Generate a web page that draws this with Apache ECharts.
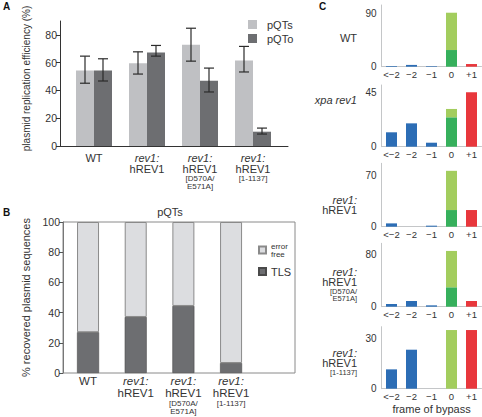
<!DOCTYPE html>
<html><head><meta charset="utf-8">
<script src="https://cdn.jsdelivr.net/npm/echarts@6/dist/echarts.min.js"></script>
<style>html,body{margin:0;padding:0;background:#fff}#c{width:482px;height:417px}</style>
</head><body><div id="c"></div>
<script>
// ---------- Panel A data ----------
const aCategories = ['WT', 'rev1:hREV1', 'rev1:hREV1[D570A/E571A]', 'rev1:hREV1[1-1137]'];
const aPQTs     = [54.3, 59.5, 72.9, 61.6];
const aPQTsLow  = [45.2, 51.8, 61.1, 53.3];
const aPQTsHigh = [64.7, 67.8, 84.8, 71.7];
const aPQTo     = [54.3, 67.4, 47.0, 10.3];
const aPQToLow  = [46.8, 64.7, 38.9, 8.6];
const aPQToHigh = [62.8, 72.4, 56.1, 12.9];
const aYTicks = [0, 20, 40, 60, 80];

// ---------- Panel B data ----------
const bCategories = aCategories;
const bTLS       = [27.0, 37.1, 44.4, 6.6];
const bErrorFree = [73.0, 62.9, 55.6, 93.4];
const bYTicks = [0, 20, 40, 60, 80, 100];

// ---------- Panel C data ----------
const cRows = ['WT', 'xpa rev1', 'rev1:hREV1', 'rev1:hREV1[D570A/E571A]', 'rev1:hREV1[1-1137]'];
const cFrames = ['<\u22122', '\u22122', '\u22121', '0', '+1'];
const cBlue      = [[1.2, 3.0, 1.0], [11.9, 19.3, 3.3], [4.5, 0, 1.4], [4.2, 8.8, 2.1], [11.6, 23.4, 0]];
const cGreenDark = [28.1, 24.3, 22.6, 30.0, 0];
const cGreenLight= [62.9, 6.9, 53.2, 56.2, 35.2];
const cRed       = [4.5, 45.0, 22.6, 8.8, 35.2];
const cYTick = [90, 45, 70, 80, 30];
const cYMax  = [104, 51, 86, 98, 37.2];

const FONT = '"Liberation Sans", Arial, Helvetica, sans-serif';
const TXT = '#333333';
const LIGHT = '#bfc0c3', DARK = '#6d6e71';

function catLabel(name) {
  if (name === 'WT') return '{n|WT}';
  if (name === 'xpa rev1') return '{i|xpa rev1}';
  const m = name.match(/^rev1:hREV1(?:\[(.*)\])?$/);
  let s = '{i|rev1:}\n{n|hREV1}';
  if (m && m[1]) {
    if (m[1].indexOf('/') >= 0) {
      const p = m[1].split('/');
      s += '\n{s|[' + p[0] + '/}\n{s|' + p[1] + ']}';
    } else s += '\n{s|[' + m[1] + ']}';
  }
  return s;
}
const richCat = {
  n: {fontSize: 11, lineHeight: 11, color: TXT, fontFamily: FONT},
  i: {fontSize: 11, lineHeight: 11, color: TXT, fontFamily: FONT, fontStyle: 'italic'},
  s: {fontSize: 8, lineHeight: 8, color: TXT, fontFamily: FONT}
};

const chart = echarts.init(document.getElementById('c'), null, {renderer: 'svg', width: 482, height: 417});

const cTops = [5, 85, 163.3, 243.3, 326.7];
const cHeights = [61.7, 61.7, 63.4, 63.4, 62];

const grids = [
  {left: 60, top: 21, width: 228, height: 125},
  {left: 67.5, top: 21, width: 212, height: 125},
  {left: 63, top: 222, width: 232, height: 151, show: true, borderColor: '#8a8a8a', borderWidth: 1, backgroundColor: 'transparent'},
  {left: 64.2, top: 222, width: 190.7, height: 151}
];
cTops.forEach((t, i) => grids.push({left: 381.5, top: t, width: 100, height: cHeights[i]}));

const hidden = {axisLine: {show: false}, axisTick: {show: false}, axisLabel: {show: false}, splitLine: {show: false}};

const xAxes = [
  {gridIndex: 0, type: 'value', min: 0, max: 1, axisLine: {show: true, onZero: false, lineStyle: {color: '#333', width: 1}}, axisTick: {show: false}, axisLabel: {show: false}, splitLine: {show: false}},
  {gridIndex: 1, type: 'category', data: aCategories, axisLine: {show: false}, axisTick: {show: false},
   axisLabel: {formatter: catLabel, rich: richCat, margin: 6, interval: 0}},
  Object.assign({gridIndex: 2, type: 'value', min: 0, max: 1}, hidden),
  {gridIndex: 3, type: 'category', data: bCategories, axisLine: {show: false}, axisTick: {show: false},
   axisLabel: {formatter: catLabel, rich: {
     n: {fontSize: 11.5, lineHeight: 12, color: TXT, fontFamily: FONT},
     i: {fontSize: 11.5, lineHeight: 12, color: TXT, fontFamily: FONT, fontStyle: 'italic'},
     s: {fontSize: 8, lineHeight: 8.5, color: TXT, fontFamily: FONT}}, margin: 2, interval: 0}}
];
cTops.forEach((t, i) => xAxes.push({
  gridIndex: 4 + i, type: 'category', data: cFrames,
  axisLine: {show: true, lineStyle: {color: '#c4c6c8', width: 1}}, axisTick: {show: false},
  axisLabel: {fontSize: 9.5, color: TXT, fontFamily: FONT, margin: 3, interval: 0},
  name: i === 4 ? 'frame of bypass' : '', nameLocation: 'middle', nameGap: 15,
  nameTextStyle: {fontSize: 11, color: TXT, fontFamily: FONT}
}));

const yAxes = [
  {gridIndex: 0, type: 'value', min: 0, max: 90,
   axisLine: {show: true, lineStyle: {color: '#333', width: 1}},
   axisTick: {show: true, length: 4, customValues: aYTicks, lineStyle: {color: '#333'}},
   axisLabel: {customValues: aYTicks, fontSize: 10.5, color: TXT, fontFamily: FONT, margin: 3},
   splitLine: {show: false},
   name: 'plasmid replication efficiency (%)', nameLocation: 'middle', nameGap: 29,
   nameTextStyle: {fontSize: 10, color: TXT, fontFamily: FONT, padding: [0, 0, 0, 10]}},
  Object.assign({gridIndex: 1, type: 'value', min: 0, max: 90}, hidden),
  {gridIndex: 2, type: 'value', min: 0, max: 100,
   axisLine: {show: true, lineStyle: {color: '#777', width: 1}},
   axisTick: {show: true, length: 4, customValues: bYTicks, lineStyle: {color: '#555'}},
   axisLabel: {customValues: bYTicks, fontSize: 10.5, color: TXT, fontFamily: FONT, margin: 3},
   splitLine: {show: false},
   name: '% recovered plasmid sequences', nameLocation: 'middle', nameGap: 32,
   nameTextStyle: {fontSize: 11, color: TXT, fontFamily: FONT}},
  Object.assign({gridIndex: 3, type: 'value', min: 0, max: 100}, hidden)
];
cTops.forEach((t, i) => yAxes.push({
  gridIndex: 4 + i, type: 'value', min: 0, max: cYMax[i],
  axisLine: {show: true, lineStyle: {color: '#c4c6c8', width: 1}}, axisTick: {show: false},
  axisLabel: {customValues: [0, cYTick[i]], fontSize: 10, color: TXT, fontFamily: FONT, margin: 5},
  splitLine: {show: false}
}));

function errSeries(low, high, off) {
  return {
    type: 'custom', xAxisIndex: 1, yAxisIndex: 1, z: 5, silent: true,
    data: low.map((v, i) => [i, v, high[i]]),
    encode: {x: 0, y: [1, 2]},
    renderItem: function (params, api) {
      const lo = api.coord([api.value(0), api.value(1)]);
      const hi = api.coord([api.value(0), api.value(2)]);
      const x = lo[0] + off;
      const st = {stroke: '#2b2b2b', lineWidth: 1.2};
      return {type: 'group', children: [
        {type: 'line', shape: {x1: x, y1: lo[1], x2: x, y2: hi[1]}, style: st},
        {type: 'line', shape: {x1: x - 5, y1: lo[1], x2: x + 5, y2: lo[1]}, style: st},
        {type: 'line', shape: {x1: x - 5, y1: hi[1], x2: x + 5, y2: hi[1]}, style: st}
      ]};
    }
  };
}

const series = [
  {name: 'pQTs', type: 'bar', xAxisIndex: 1, yAxisIndex: 1, data: aPQTs, barWidth: 18, barGap: '0%', itemStyle: {color: LIGHT}},
  {name: 'pQTo', type: 'bar', xAxisIndex: 1, yAxisIndex: 1, data: aPQTo, barWidth: 18, barGap: '0%', itemStyle: {color: DARK}},
  errSeries(aPQTsLow, aPQTsHigh, -9),
  errSeries(aPQToLow, aPQToHigh, 9),
  {name: 'TLS', type: 'bar', stack: 'b', xAxisIndex: 3, yAxisIndex: 3, data: bTLS, barWidth: 22,
   itemStyle: {color: DARK, borderColor: '#4a4a4a', borderWidth: 0.6}},
  {name: 'error free', type: 'bar', stack: 'b', xAxisIndex: 3, yAxisIndex: 3, data: bErrorFree, barWidth: 22,
   itemStyle: {color: '#dcdde0', borderColor: '#8a8a8a', borderWidth: 1}}
];

const BLUE = '#2c6db5', GDARK = '#36b05c', GLIGHT = '#a3cd5e', RED = '#e8373c';
cTops.forEach((t, i) => {
  const common = {type: 'bar', stack: 'c' + i, xAxisIndex: 4 + i, yAxisIndex: 4 + i, barWidth: 11, silent: true};
  series.push(Object.assign({name: 'blue' + i, data: [cBlue[i][0], cBlue[i][1], cBlue[i][2], '-', '-'], itemStyle: {color: BLUE}}, common));
  series.push(Object.assign({name: 'gdark' + i, data: ['-', '-', '-', cGreenDark[i], '-'], itemStyle: {color: GDARK}}, common));
  series.push(Object.assign({name: 'glight' + i, data: ['-', '-', '-', cGreenLight[i], '-'], itemStyle: {color: GLIGHT}}, common));
  series.push(Object.assign({name: 'red' + i, data: ['-', '-', '-', '-', cRed[i]], itemStyle: {color: RED}}, common));
});

function gtext(x, y, text, opts) {
  opts = opts || {};
  return {type: 'text', x: x, y: y, silent: true, style: {
    text: text, fill: opts.fill || TXT,
    font: (opts.italic ? 'italic ' : '') + (opts.bold ? 'bold ' : 'normal ') + (opts.size || 11) + 'px ' + FONT,
    align: opts.align || 'right', verticalAlign: opts.valign || 'middle',
    textAlign: opts.align || 'right', textVerticalAlign: opts.valign || 'middle',
    rich: opts.rich
  }};
}

const richRow = {
  n: {fontSize: 11, lineHeight: 10.5, fontFamily: FONT, fill: TXT, color: TXT, align: 'right'},
  i: {fontSize: 11, lineHeight: 10.5, fontFamily: FONT, fill: TXT, color: TXT, fontStyle: 'italic', align: 'right'},
  s: {fontSize: 7.5, lineHeight: 7.5, fontFamily: FONT, fill: TXT, color: TXT, align: 'right'}
};
// top y of each C row label block
const cRowLabelTop = [32.75, 94.75, 194.25, 266.25, 347.45];

const RX = 357;
const graphics = [
  gtext(3, 6, 'A', {bold: true, size: 10, align: 'left', fill: '#111'}),
  gtext(3, 212, 'B', {bold: true, size: 10, align: 'left', fill: '#111'}),
  gtext(319, 6, 'C', {bold: true, size: 10, align: 'left', fill: '#111'}),
  gtext(170, 212, 'pQTs', {align: 'center', size: 11})
];
cRows.forEach((r, i) => graphics.push(gtext(RX, cRowLabelTop[i], catLabel(r), {valign: 'top', rich: richRow})));

chart.setOption({
  animation: false,
  backgroundColor: '#fff',
  textStyle: {fontFamily: FONT},
  grid: grids,
  xAxis: xAxes,
  yAxis: yAxes,
  legend: [
    {data: ['pQTs', 'pQTo'], left: 243, top: 14, orient: 'vertical', itemWidth: 9, itemHeight: 9, itemGap: 3,
     icon: 'rect', selectedMode: false, textStyle: {fontSize: 11, color: TXT, fontFamily: FONT, padding: [0, 0, 0, 5]}},
    {data: ['error free', 'TLS'], left: 253, top: 237, orient: 'vertical', itemWidth: 7, itemHeight: 7, itemGap: 8,
     icon: 'rect', selectedMode: false,
     formatter: n => n === 'error free' ? '{s|error}\n{s|free}' : '{b|TLS}',
     textStyle: {color: TXT, fontFamily: FONT, padding: [0, 0, 0, 0], rich: {
       s: {fontSize: 8, lineHeight: 8, color: TXT, fontFamily: FONT},
       b: {fontSize: 11, lineHeight: 11, color: TXT, fontFamily: FONT}}}}
  ],
  graphic: graphics,
  series: series
});
</script>
</body></html>
